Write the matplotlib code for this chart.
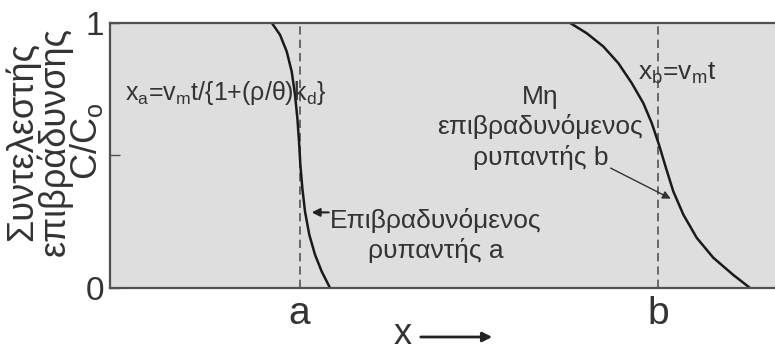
import matplotlib
matplotlib.use('Agg')
import matplotlib.pyplot as plt
from matplotlib.patches import FancyArrowPatch

plt.rcParams['font.family'] = ['Liberation Sans', 'DejaVu Sans']
plt.rcParams['mathtext.fontset'] = 'custom'
plt.rcParams['mathtext.rm'] = 'Liberation Sans'
plt.rcParams['mathtext.it'] = 'Liberation Sans'

# Concentration fronts (x in arbitrary distance units, y = C/Co)
curve_a_x = [2.432, 2.556, 2.657, 2.732, 2.782, 2.817, 2.842, 2.862, 2.892, 2.932,
             2.997, 3.083, 3.183, 3.308]
curve_a_y = [1.0, 0.955, 0.892, 0.816, 0.728, 0.640, 0.552, 0.464, 0.376, 0.288,
             0.200, 0.125, 0.062, 0.0]
curve_b_x = [6.917, 7.168, 7.418, 7.644, 7.845, 8.020, 8.146, 8.256, 8.361, 8.471,
             8.621, 8.823, 9.072, 9.373, 9.624]
curve_b_y = [1.0, 0.961, 0.911, 0.848, 0.773, 0.697, 0.622, 0.540, 0.452, 0.364,
             0.277, 0.189, 0.114, 0.049, 0.0]

front_x = [2.85, 8.245]
front_labels = ['a', 'b']
y_ticks = [0, 0.5, 1]
y_ticklabels = ['0', '', '1']

txt = '#333333'
edge = '#505050'

fig = plt.figure(figsize=(7.75, 3.52), dpi=100)
ax = fig.add_axes([0.142, 0.182, 0.858, 0.753])
ax.set_facecolor('#dedede')
ax.set_xlim(0, 10)
ax.set_ylim(0, 1)

for xf in front_x:
    ax.plot([xf, xf], [0, 1], ls=(0, (5, 3)), color='#555555', lw=1.2)

ax.plot(curve_a_x, curve_a_y, color='#1a1a1a', lw=1.8, solid_joinstyle='round')
ax.plot(curve_b_x, curve_b_y, color='#1a1a1a', lw=1.8, solid_joinstyle='round')

for s in ['top', 'bottom', 'left']:
    ax.spines[s].set_color(edge)
    ax.spines[s].set_linewidth(1.6)
ax.spines['right'].set_visible(False)

ax.set_yticks(y_ticks)
ax.set_yticklabels(y_ticklabels, fontsize=24, color=txt)
ax.tick_params(axis='y', direction='in', length=7, width=1, color=edge, pad=4)
ax.set_xticks(front_x)
ax.set_xticklabels(front_labels, fontsize=28, color=txt)
ax.tick_params(axis='x', length=0, pad=6)

fig.text(55 / 775, 1 - 141 / 352, 'Συντελεστής\nεπιβράδυνσης\nC/C$_o$', rotation=90,
         ha='center', va='center', multialignment='center', fontsize=26,
         color=txt, linespacing=0.84)

ax.text(0.226, 0.736, 'x$_a$=v$_m$t/{1+(ρ/θ)k$_d$}', fontsize=18, color=txt,
        ha='left', va='center')
ax.text(7.94, 0.811, 'x$_b$=v$_m$t', fontsize=19, color=txt, ha='left', va='center')

ax.text(4.90, 0.196, 'Επιβραδυνόμενος\nρυπαντής a', fontsize=19, color=txt,
        ha='center', va='center', linespacing=1.25)
ax.annotate('', xy=(2.99, 0.285), xytext=(3.33, 0.285),
            arrowprops=dict(arrowstyle='-|>', color='#222222', lw=1.5, mutation_scale=12))

ax.text(6.47, 0.606, 'Μη\nεπιβραδυνόμενος\nρυπαντής b', fontsize=19, color=txt,
        ha='center', va='center', linespacing=1.28)
ax.annotate('', xy=(8.47, 0.332), xytext=(7.49, 0.457),
            arrowprops=dict(arrowstyle='-|>', color='#333333', lw=1.0, mutation_scale=12))

fig.text(403 / 775, 1 - 335 / 352, 'x', fontsize=26, color=txt, ha='center', va='center')
fig.patches.append(FancyArrowPatch(
    (418 / 775, 1 - 337 / 352), (495 / 775, 1 - 337 / 352), transform=fig.transFigure,
    arrowstyle='-|>', mutation_scale=14, lw=2, color='#222222'))

fig.savefig('out.png', dpi=100)
